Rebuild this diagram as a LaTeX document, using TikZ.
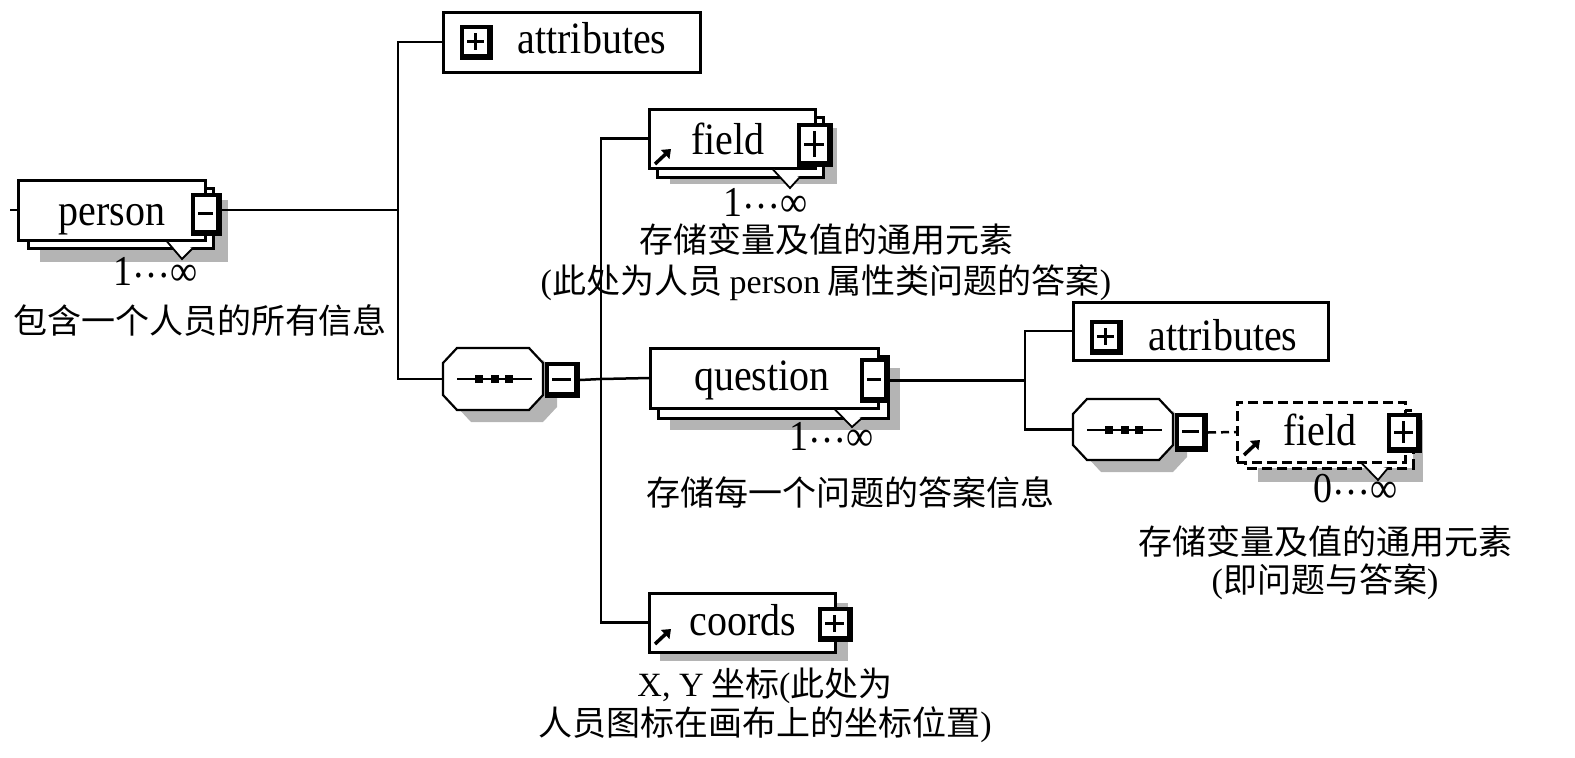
\documentclass[tikz,border=0pt]{standalone}
\usepackage{fontspec}
\setmainfont{Liberation Serif}
\newfontfamily\cjk{Noto Sans CJK SC}
\usetikzlibrary{arrows.meta,calc}
\definecolor{shd}{RGB}{180,180,180}
\newcommand\boxnode[6][]{%
  \pgfmathsetmacro\bw{#5-#3}\pgfmathsetmacro\bh{#6-#4}%
  \node[bx, minimum width=\bw pt, minimum height=\bh pt, anchor=north west, #1] (#2) at (#3,#4) {};}
\newcommand\btn[6]{%
  \pgfmathsetmacro\bw{#4-#2}\pgfmathsetmacro\bh{#5-#3}%
  \node[fill=black, inner sep=0, outer sep=0, minimum width=\bw pt, minimum height=\bh pt, anchor=north west] (#1) at (#2,#3) {};
  \fill[white] ($(#1.north west)+(4,4)$) rectangle ($(#1.south east)+(-6,-6)$);
  \draw[line width=3pt] ($(#1.west)+(7,-1)$) -- ($(#1.east)+(-9,-1)$);
  \ifnum#6=1 \draw[line width=3pt] ($(#1.north)+(-1,8)$) -- ($(#1.south)+(-1,-10)$);\fi}
\newcommand\octa[5][]{%
  \draw[#1] ({#2+14},#3) -- ({#4-14},#3) -- (#4,{#3+15}) -- (#4,{#5-15}) -- ({#4-14},#5) -- ({#2+14},#5) -- (#2,{#5-15}) -- (#2,{#3+15}) -- cycle;}
\newcommand\seqinner[3]{% x1, y center, x2
  \draw[line width=2.4pt] ({#1+14},#2) -- ({#3-11},#2);
  \foreach \dx in {36,52,66} \fill ({#1+\dx-4},{#2-4}) rectangle ({#1+\dx+4},{#2+4});}
\newcommand\tall[1]{\scalebox{1}[1.12]{#1}}
\newcommand\mdots{\raisebox{0.17em}{…}}
\begin{document}
\begin{tikzpicture}[x=1pt,y=-1pt,
  conn/.style={line width=2.5pt},
  bx/.style={draw, line width=3pt, fill=white, inner sep=0, outer sep=0},
  lbl/.style={font=\fontsize{40}{44}\selectfont, inner sep=0, anchor=base},
  captxt/.style={font=\cjk\fontsize{34}{40}\selectfont, inner sep=0},
  mult/.style={font=\fontsize{38}{40}\selectfont, inner sep=0, anchor=base},
  notch/.style={line width=1.8pt, fill=white},
  icon/.style={line width=3.5pt, -{Triangle[length=8pt,width=12pt]}},
  dsh/.style={dash pattern=on 10pt off 5pt},
]
\useasboundingbox (0,0) rectangle (1575,758);

% ---------- person ----------
\fill[shd] (40,200) rectangle (228,262);
\draw[line width=3pt, fill=white] (28,188) rectangle (213,248);
\boxnode{person}{18}{180}{205}{240}
\draw[notch] (167,241.5) -- (182,259) -- (193,248);
\btn{pbtn}{191}{193}{222}{236}{0}
\node[lbl] (tperson) at (112,225) {\tall{person}};
\node[mult] (mperson) at (156,285) {\tall{1\mdots∞}};
\node[captxt] (cperson) at (200,320) {包含一个人员的所有信息};

% ---------- attributes 1 ----------
\boxnode{attr1}{443}{12}{700}{72}
\btn{a1btn}{460}{25}{493}{60}{1}
\node[lbl] (tattr1) at (592,53) {\tall{attributes}};

% ---------- sequence 1 ----------
\octa[fill=shd, draw=none]{457}{360}{557}{422}
\boxnode[draw=none, fill=none]{seq1}{443}{348}{543}{410}
\octa[line width=2.2pt, fill=white]{443}{348}{543}{410}
\seqinner{443}{379}{543}
\btn{s1btn}{545}{362}{580}{398}{0}

% ---------- field 1 ----------
\fill[shd] (670,128) rectangle (837,184);
\draw[line width=3pt, fill=white] (657,117) rectangle (823,177);
\boxnode{field1}{649}{109}{815}{168}
\draw[notch] (773,169.5) -- (790,188) -- (800,177);
\btn{f1btn}{797}{123}{833}{167}{1}
\draw[icon] (655,164) -- (671,149);
\node[lbl] (tfield1) at (728,154) {\tall{field}};
\node[mult] (mfield1) at (766,216) {\tall{1\mdots∞}};
\node[captxt] (cfield1a) at (826,240) {存储变量及值的通用元素};
\node[captxt] (cfield1b) at (826,283) {{\rmfamily(}此处为人员 {\rmfamily person} 属性类问题的答案{\rmfamily)}};

% ---------- question ----------
\fill[shd] (670,368) rectangle (900,430);
\draw[line width=3pt, fill=white] (658,356) rectangle (888,418);
\boxnode{question}{650}{348}{878}{408}
\draw[notch] (835,409.5) -- (852,427) -- (862,418);
\btn{qbtn}{860}{358}{890}{403}{0}
\node[lbl] (tquestion) at (762,390) {\tall{question}};
\node[mult] (mquestion) at (832,450) {\tall{1\mdots∞}};
\node[captxt] (cquestion) at (850,492) {存储每一个问题的答案信息};

% ---------- coords ----------
\fill[shd] (660,603) rectangle (848,661);
\boxnode{coords}{649}{593}{835}{652}
\btn{cbtn}{818}{607}{853}{642}{1}
\draw[icon] (655,644) -- (671,629);
\node[lbl] (tcoords) at (743,635) {\tall{coords}};
\node[captxt] (ccoords1) at (765,686) {{\rmfamily X, Y} 坐标{\rmfamily(}此处为};
\node[captxt] (ccoords2) at (765,725) {人员图标在画布上的坐标位置{\rmfamily)}};

% ---------- attributes 2 ----------
\boxnode{attr2}{1073}{302}{1328}{360}
\btn{a2btn}{1090}{320}{1123}{355}{1}
\node[lbl] (tattr2) at (1223,350) {\tall{attributes}};

% ---------- sequence 2 ----------
\octa[fill=shd, draw=none]{1087}{411}{1187}{472}
\boxnode[draw=none, fill=none]{seq2}{1073}{399}{1173}{460}
\octa[line width=2.2pt, fill=white]{1073}{399}{1173}{460}
\seqinner{1073}{430}{1173}
\btn{s2btn}{1175}{413}{1208}{452}{0}

% ---------- field 2 (optional) ----------
\fill[shd] (1258,420) rectangle (1423,482);
\draw[line width=3pt, dsh, fill=white] (1245,410) rectangle (1413,468);
\boxnode[dsh]{field2}{1237}{402}{1405}{462}
\draw[notch] (1362,463.5) -- (1378,480) -- (1388,468);
\btn{f2btn}{1387}{413}{1422}{453}{1}
\draw[icon] (1244,455) -- (1260,440);
\node[lbl] (tfield2) at (1320,445) {\tall{field}};
\node[mult] (mfield2) at (1356,502) {\tall{0\mdots∞}};
\node[captxt] (cfield2a) at (1325,542) {存储变量及值的通用元素};
\node[captxt] (cfield2b) at (1325,582) {{\rmfamily(}即问题与答案{\rmfamily)}};

% ---------- connectors ----------
\coordinate (pstub) at (10,210);
\coordinate (ja) at (398,210);
\coordinate (jb) at (601,379);
\coordinate (jc) at (1025,379);
\draw[conn] (pstub) -- (person.west);
\draw[conn] (pbtn.east |- ja) -- (ja);
\draw[conn] (attr1.west) -| (ja) |- (seq1.west);
\draw[conn] (s1btn.east) -- (jb) -- (question.west);
\draw[conn] (field1.west) -| (jb) |- (coords.west);
\draw[conn] (qbtn.east) -- (qbtn.east -| jc);
\draw[conn] (attr2.west) -| (jc) |- (seq2.west);
\draw[conn, dash pattern=on 8pt off 5pt] (s2btn.east) -- (field2.west);
\end{tikzpicture}
\end{document}
